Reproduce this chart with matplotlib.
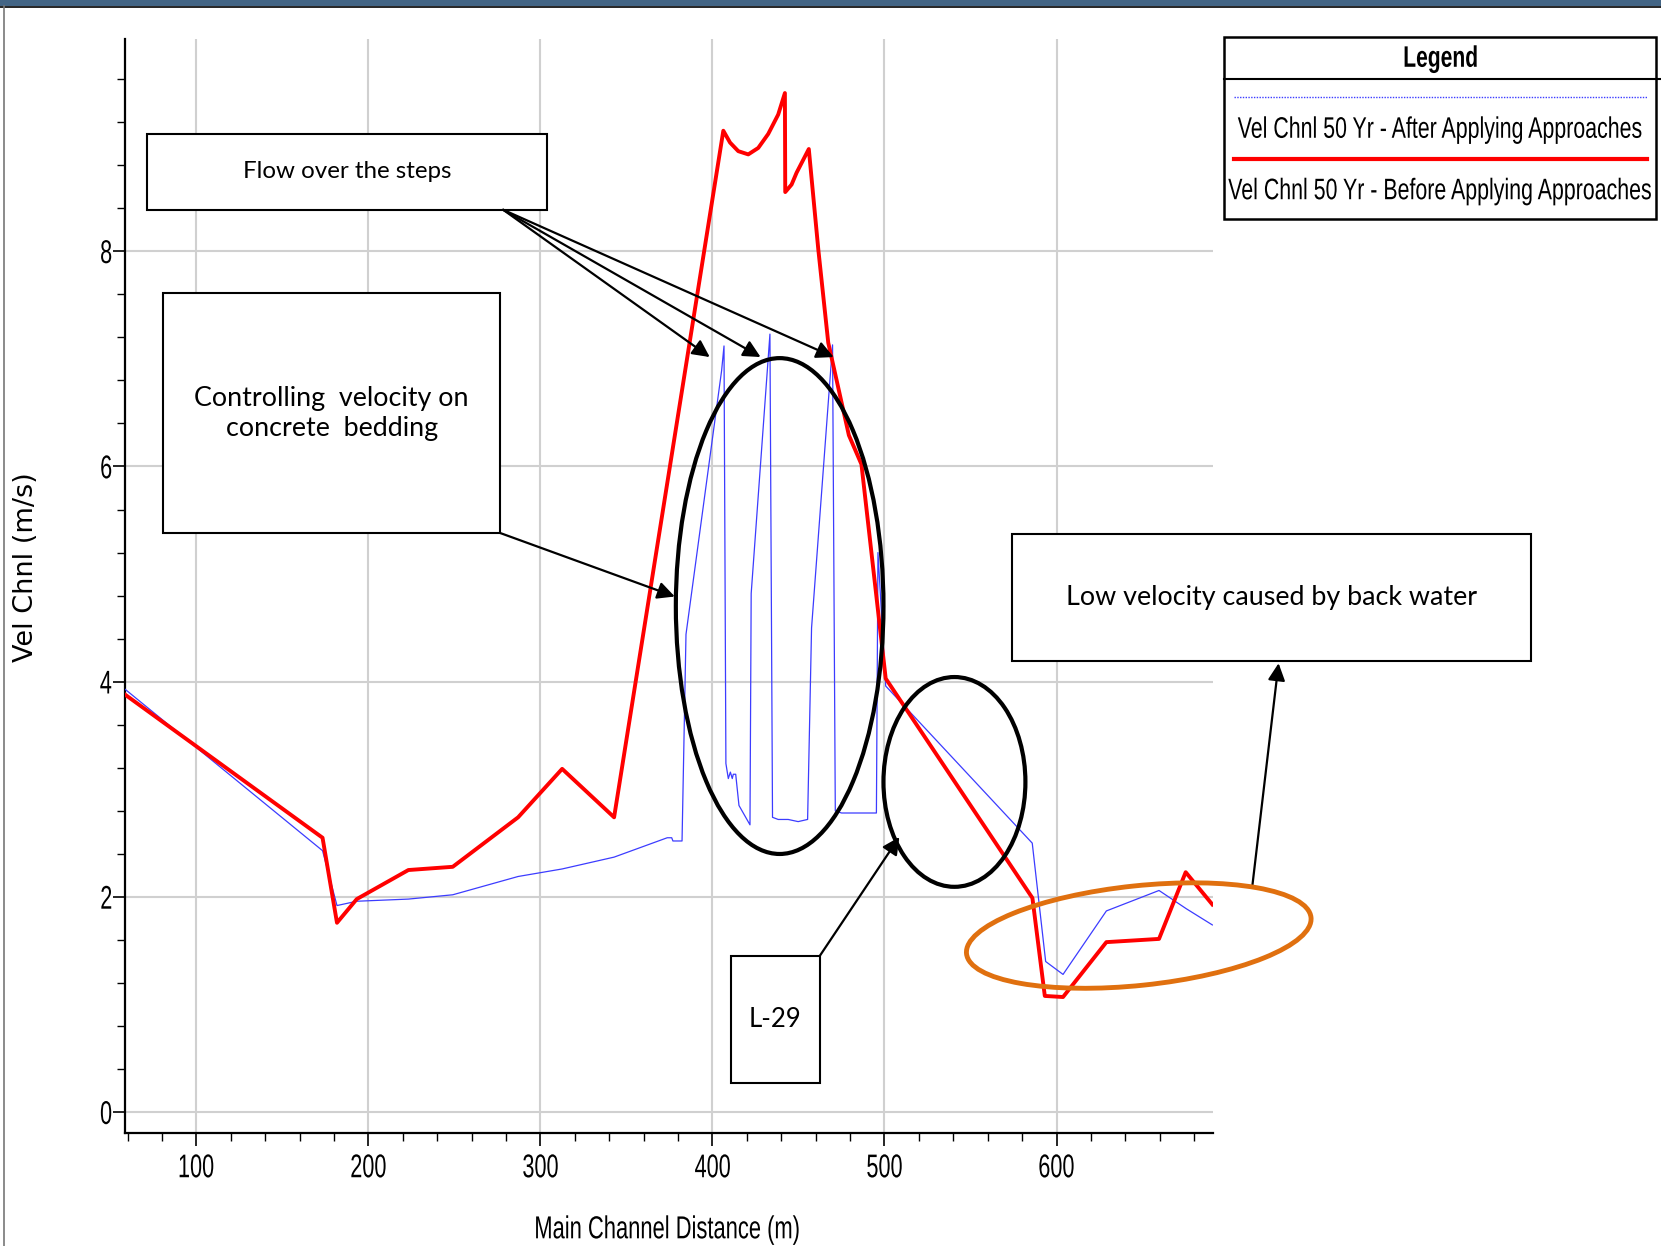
import matplotlib.pyplot as plt
from matplotlib.patches import Rectangle, Ellipse, FancyArrowPatch, PathPatch
from matplotlib.lines import Line2D
from matplotlib.ticker import MultipleLocator
from matplotlib.textpath import TextPath
from matplotlib.font_manager import FontProperties
from matplotlib.transforms import Affine2D

# ---- data ----
# Vel Chnl 50 Yr - Before Applying Approaches (red)
dist_before = [58.5, 173.3, 181.7, 193.2, 223.2, 249.0, 287.0, 312.6, 342.8,
               406.3, 410.2, 415.0, 420.8, 426.6, 432.4, 438.2, 442.1, 442.3,
               446.0, 448.9, 456.0, 461.5, 467.3, 479.3, 486.6, 500.7, 586.0,
               593.2, 603.8, 629.0, 659.6, 675.1, 690.6]
vel_before = [3.88, 2.55, 1.76, 1.98, 2.25, 2.28, 2.74, 3.19, 2.74,
              9.12, 9.01, 8.93, 8.90, 8.96, 9.09, 9.27, 9.47, 8.55,
              8.62, 8.73, 8.95, 8.02, 7.15, 6.29, 6.02, 4.03, 1.99,
              1.08, 1.07, 1.58, 1.61, 2.23, 1.93]

# Vel Chnl 50 Yr - After Applying Approaches (blue)
dist_after = [58.5, 173.3, 181.7, 193.2, 223.2, 249.0, 287.0, 312.6, 342.8,
              373.7, 376.3, 377.0, 382.3, 384.6, 405.3, 406.7, 407.8, 409.2,
              410.4, 411.5, 412.1, 413.5, 415.4, 421.8, 422.5, 433.4, 434.9,
              438.2, 444.0, 449.8, 455.3, 457.6, 469.8, 471.4, 475.0, 495.3,
              496.2, 500.7, 585.9, 593.7, 603.8, 629.0, 659.6, 675.5, 690.6]
vel_after = [3.93, 2.43, 1.92, 1.96, 1.98, 2.02, 2.19, 2.26, 2.37,
             2.55, 2.55, 2.52, 2.52, 4.44, 6.89, 7.12, 3.24, 3.10,
             3.16, 3.10, 3.14, 3.14, 2.85, 2.67, 4.82, 7.23, 2.74,
             2.72, 2.72, 2.70, 2.72, 4.50, 7.13, 2.80, 2.78, 2.78,
             5.20, 3.96, 2.50, 1.40, 1.28, 1.87, 2.06, 1.89, 1.74]

label_after = "Vel Chnl 50 Yr - After Applying Approaches"
label_before = "Vel Chnl 50 Yr - Before Applying Approaches"

boxfont = ['Lato', 'DejaVu Sans']

fig = plt.figure(figsize=(16.61, 12.46), dpi=100)

# window frame bits (top bar, left edge)
fig.patches.append(Rectangle((0, 1 - 6 / 1246), 1, 6 / 1246, transform=fig.transFigure,
                             facecolor='#436585', edgecolor='none'))
fig.lines.append(Line2D([0, 1], [1 - 7 / 1246, 1 - 7 / 1246], transform=fig.transFigure,
                        color='black', lw=1.2))
fig.lines.append(Line2D([4 / 1661, 4 / 1661], [0, 1 - 6 / 1246], transform=fig.transFigure,
                        color='#777777', lw=1.2))

# main plot
ax = fig.add_axes([0.0753, 0.091, 0.655, 0.8775])
ax.plot(dist_after, vel_after, color='#3c3cff', lw=0.9, zorder=3)
ax.plot(dist_before, vel_before, color='#ff0000', lw=2.8, zorder=4)

ax.set_xlim(58.5, 691)
ax.set_ylim(-0.19, 9.97)
ax.xaxis.set_major_locator(MultipleLocator(100))
ax.xaxis.set_minor_locator(MultipleLocator(20))
ax.yaxis.set_major_locator(MultipleLocator(2))
ax.yaxis.set_minor_locator(MultipleLocator(0.4))
ax.grid(which='major', color='#d0d0d0', lw=1.5)
ax.set_axisbelow(True)
for s in ['top', 'right']:
    ax.spines[s].set_visible(False)
for s in ['left', 'bottom']:
    ax.spines[s].set_linewidth(1.6)
ax.tick_params(which='major', length=9, width=1.2, labelbottom=False, labelleft=False)
ax.tick_params(which='minor', length=6, width=1.0)

fig.text(25 / 1568, 1 - 535 / 1176, "Vel Chnl (m/s)", family='DejaVu Sans',
         fontsize=19.5, rotation=90, ha='center', va='center')

# overlay for call-outs, in picture units (y down)
ov = fig.add_axes([0, 0, 1, 1], zorder=5)
ov.set_xlim(0, 1568)
ov.set_ylim(1176, 0)
ov.axis('off')


def narrow_text(x, y, s, size, sx, ha='center', bold=False):
    # condensed text: glyph outlines squeezed horizontally
    fp = FontProperties(family='Liberation Sans', weight='bold' if bold else 'normal')
    tp = TextPath((0, 0), s, size=size, prop=fp)
    bb = tp.get_extents()
    w = bb.width * sx
    left = {'center': x - w / 2, 'left': x, 'right': x - w}[ha]
    tr = Affine2D().translate(-bb.x0, 0).scale(sx, -1).translate(left, y + size * 0.716 / 2)
    ov.add_patch(PathPatch(tr.transform_path(tp), fc='black', ec='none', lw=0))


to_ov = ov.transData.inverted()
for v in ax.get_xticks():
    if ax.get_xlim()[0] <= v <= ax.get_xlim()[1]:
        px, _ = to_ov.transform(ax.transData.transform((v, 0)))
        narrow_text(px, 1100, "%d" % v, 31, 0.66)
for v in ax.get_yticks():
    if ax.get_ylim()[0] <= v <= ax.get_ylim()[1]:
        _, py = to_ov.transform(ax.transData.transform((ax.get_xlim()[0], v)))
        narrow_text(105, py, "%d" % v, 31, 0.66, ha='right')
narrow_text(630, 1158, "Main Channel Distance (m)", 30, 0.69)


def box(x0, y0, x1, y1, text, fs=16):
    ov.add_patch(Rectangle((x0, y0), x1 - x0, y1 - y0, facecolor='white',
                           edgecolor='black', lw=1.5))
    ov.text((x0 + x1) / 2, (y0 + y1) / 2, text, family=boxfont, fontsize=fs,
            ha='center', va='center', linespacing=1.25)


def arrow(p0, p1):
    ov.add_patch(FancyArrowPatch(p0, p1, arrowstyle='-|>', mutation_scale=26,
                                 lw=1.6, color='black', shrinkA=0, shrinkB=0))


box(139, 126, 516, 198, "Flow over the steps", 17.4)
box(154, 277, 472, 503, "Controlling  velocity on\nconcrete  bedding", 19.4)
box(955, 504, 1445, 624, "Low velocity caused by back water", 19.4)
box(690, 902, 774, 1022, "L-29", 18.5)

for tip in [(670, 337), (718, 337), (787, 337)]:
    arrow((475, 198), tip)
arrow((472, 503), (637, 563))
arrow((774, 902), (849, 790))
arrow((1182, 838), (1207, 626))

ov.add_patch(Ellipse((736, 572), 196, 468, fill=False, ec='black', lw=3))
ov.add_patch(Ellipse((901, 738), 134, 198, fill=False, ec='black', lw=3))
ov.add_patch(Ellipse((1075, 883), 327, 94, angle=-6, fill=False, ec='#e0700f', lw=3.5))

# legend drawn as a framed table
ov.add_patch(Rectangle((1155, 35), 408, 172, facecolor='white', edgecolor='black', lw=1.8))
ov.plot([1155, 1568], [75, 75], color='black', lw=1.5)
narrow_text(1360, 53, "Legend", 28, 0.71, bold=True)
ov.plot([1165, 1555], [92, 92], color='#3c3cff', lw=1.0, ls=(0, (1, 1)))
narrow_text(1359, 120, label_after, 28, 0.72)
ov.plot([1165, 1555], [150, 150], color='#ff0000', lw=3)
narrow_text(1359, 178, label_before, 28, 0.72)

fig.savefig("out.png", dpi=100)
